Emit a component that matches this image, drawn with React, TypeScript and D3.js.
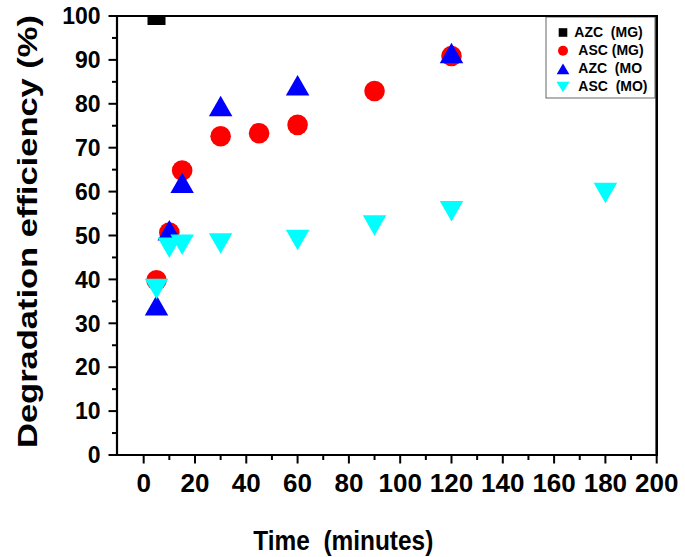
import React from "react";
import * as d3 from "d3";

const azcMG_t = [5];
const azcMG_v = [100];
const ascMG_t = [5, 10, 15, 30, 45, 60, 90, 120];
const ascMG_v = [39.8, 50.7, 64.8, 72.6, 73.3, 75.2, 82.9, 90.9];
const azcMO_t = [5, 10, 15, 30, 60, 120];
const azcMO_v = [34.1, 51.2, 62.0, 79.5, 84.2, 91.6];
const ascMO_t = [5, 10, 15, 30, 60, 90, 120, 180];
const ascMO_v = [37.8, 47.2, 47.9, 48.2, 49.0, 52.3, 55.5, 59.7];

const xMajor = [0, 20, 40, 60, 80, 100, 120, 140, 160, 180, 200];
const xMinor = [10, 30, 50, 70, 90, 110, 130, 150, 170, 190];
const yMajor = [0, 10, 20, 30, 40, 50, 60, 70, 80, 90, 100];
const yMinor = [5, 15, 25, 35, 45, 55, 65, 75, 85, 95];

const legendLabels = ["AZC  (MG)", "ASC (MG)", "AZC  (MO", "ASC  (MO)"];
const xTitle = "Time  (minutes)";
const yTitle = "Degradation efficiency (%)";

const W = 685;
const H = 557;
const L = 117;
const R = 656.7;
const T = 16;
const B = 455;

const FONT = "'Liberation Sans', Arial, Helvetica, sans-serif";

function upTri(cx: number, cy: number, w: number, h: number) {
  return `M${cx},${cy - h / 2}L${cx + w / 2},${cy + h / 2}L${cx - w / 2},${cy + h / 2}Z`;
}
function downTri(cx: number, cy: number, w: number, h: number) {
  return `M${cx},${cy + h / 2}L${cx + w / 2},${cy - h / 2}L${cx - w / 2},${cy - h / 2}Z`;
}

export default function App() {
  const x = d3.scaleLinear().domain([-10.4, 200]).range([L, R]);
  const y = d3.scaleLinear().domain([0, 100]).range([B, T]);

  const legendX = 563;
  const legendYs = [32.5, 50.7, 68.8, 87];
  const textXs = [574.3, 578.3, 578.3, 578.3];

  return (
    <svg
      width={W}
      height={H}
      style={{ position: "absolute", left: 0, top: 0, background: "#fff" }}
      fontFamily={FONT}
    >
      <defs>
        <clipPath id="plotClip">
          <rect x={L} y={T} width={R - L} height={B - T} />
        </clipPath>
      </defs>
      <rect x={0} y={0} width={W} height={H} fill="#fff" />

      <g clipPath="url(#plotClip)">
        {azcMG_t.map((t, i) => (
          <rect key={"sq" + i} x={x(t) - 9} y={y(azcMG_v[i]) - 9} width={18} height={18} fill="#000" />
        ))}
        {ascMG_t.map((t, i) => (
          <circle key={"c" + i} cx={x(t)} cy={y(ascMG_v[i])} r={10.3} fill="#ff0000" />
        ))}
        {azcMO_t.map((t, i) => (
          <path key={"u" + i} d={upTri(x(t), y(azcMO_v[i]), 23.5, 20.5)} fill="#0000ff" />
        ))}
        {ascMO_t.map((t, i) => (
          <path key={"d" + i} d={downTri(x(t), y(ascMO_v[i]), 23.5, 20.5)} fill="#00ffff" />
        ))}
      </g>

      {/* legend */}
      <rect x={546} y={17} width={109} height={81} fill="#fff" stroke="#666" strokeWidth={1} />
      <rect x={legendX - 4.3} y={legendYs[0] - 4.3} width={8.6} height={8.6} fill="#000" />
      <circle cx={legendX} cy={legendYs[1]} r={5} fill="#ff0000" />
      <path d={upTri(legendX, legendYs[2], 12.7, 10.7)} fill="#0000ff" />
      <path d={downTri(legendX, legendYs[3], 13, 10.7)} fill="#00ffff" />
      {legendLabels.map((s, i) => (
        <text
          key={"lt" + i}
          x={textXs[i]}
          y={[36.7, 55, 73.3, 91.3][i]}
          fontSize={14}
          fontWeight="bold"
          fill="#000"
          style={{ whiteSpace: "pre" }}
        >
          {s}
        </text>
      ))}

      {/* frame */}
      <line x1={L} y1={T} x2={R} y2={T} stroke="#000" strokeWidth={2} />
      <line x1={R} y1={T - 1} x2={R} y2={B + 1} stroke="#000" strokeWidth={2.6} />
      <line x1={L} y1={T - 1} x2={L} y2={B + 1} stroke="#000" strokeWidth={2.2} />
      <line x1={L - 1} y1={B} x2={R + 1} y2={B} stroke="#000" strokeWidth={2.2} />

      {/* x ticks */}
      {xMajor.map((v) => (
        <line key={"xM" + v} x1={x(v)} x2={x(v)} y1={B} y2={B + 8.5} stroke="#000" strokeWidth={2} />
      ))}
      {xMinor.map((v) => (
        <line key={"xm" + v} x1={x(v)} x2={x(v)} y1={B} y2={B + 5} stroke="#000" strokeWidth={2} />
      ))}
      {xMajor.map((v) => (
        <text
          key={"xl" + v}
          x={x(v)}
          y={491.7}
          textAnchor="middle"
          fontSize={26}
          fontWeight="bold"
          fill="#000"
        >
          {v}
        </text>
      ))}

      {/* y ticks */}
      {yMajor.map((v) => (
        <line key={"yM" + v} x1={L - 8.5} x2={L} y1={y(v)} y2={y(v)} stroke="#000" strokeWidth={2} />
      ))}
      {yMinor.map((v) => (
        <line key={"ym" + v} x1={L - 5} x2={L} y1={y(v)} y2={y(v)} stroke="#000" strokeWidth={2} />
      ))}
      {yMajor.map((v) => (
        <text
          key={"yl" + v}
          x={100.5}
          y={y(v) + 8.2}
          textAnchor="end"
          fontSize={23}
          fontWeight="bold"
          fill="#000"
        >
          {v}
        </text>
      ))}

      {/* axis titles */}
      <text
        x={253.3}
        y={550}
        fontSize={28}
        fontWeight="bold"
        fill="#000"
        textLength={180}
        lengthAdjust="spacingAndGlyphs"
        style={{ whiteSpace: "pre" }}
      >
        {xTitle}
      </text>
      <text
        transform={`translate(37,448) rotate(-90)`}
        x={0}
        y={0}
        fontSize={27}
        fontWeight="bold"
        fill="#000"
        textLength={433}
        lengthAdjust="spacingAndGlyphs"
      >
        {yTitle}
      </text>
    </svg>
  );
}
